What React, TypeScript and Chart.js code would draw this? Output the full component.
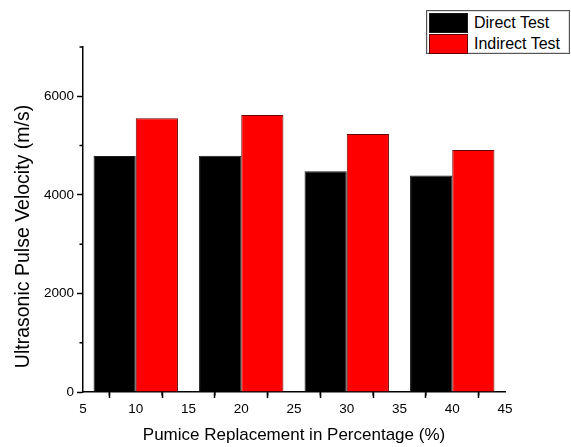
import React, { useEffect, useRef } from 'react';
import { Chart, registerables } from 'chart.js';

Chart.register(...registerables);

// ---- Data ----
const replacementLevels = [10, 20, 30, 40];
const directTest = [4790, 4796, 4480, 4391];
const indirectTest = [5554, 5621, 5236, 4912];
const seriesNames = ['Direct Test', 'Indirect Test'];
const seriesColors = ['#000000', '#ff0000'];
const seriesBorders = ['#1a1a1a', '#6a0000'];
const xAxisTitle = 'Pumice Replacement in Percentage (%)';
const yAxisTitle = 'Ultrasonic Pulse Velocity (m/s)';
const xRange = [5, 45];
const xStep = 5;
const yRange = [0, 7000];
const yMinorStep = 1000;
const yMajorStep = 2000;

const FONT = "'Liberation Sans', Arial, sans-serif";

const minorTicks = {
  id: 'minorTicks',
  afterDraw(chart: any) {
    const ctx = chart.ctx;
    const xs = chart.scales.x;
    const ys = chart.scales.y;
    ctx.save();
    ctx.strokeStyle = '#000';
    ctx.lineWidth = 1.5;
    ctx.beginPath();
    const xt = xs.ticks.map((t: any) => t.value);
    for (let i = 0; i < xt.length - 1; i++) {
      const px = xs.getPixelForValue((xt[i] + xt[i + 1]) / 2);
      ctx.moveTo(px, xs.top);
      ctx.lineTo(px, xs.top + 3.5);
    }
    ys.ticks.forEach((t: any) => {
      if (t.value % yMajorStep !== 0) {
        const py = ys.getPixelForValue(t.value);
        ctx.moveTo(ys.right, py);
        ctx.lineTo(ys.right - 3.5, py);
      }
    });
    ctx.stroke();
    ctx.restore();
  },
};

const yTitlePlugin = {
  id: 'yTitle',
  afterDraw(chart: any) {
    const ctx = chart.ctx;
    const area = chart.chartArea;
    ctx.save();
    ctx.translate(24, (area.top + area.bottom) / 2 + 17);
    ctx.rotate(-Math.PI / 2);
    ctx.font = `19.5px ${FONT}`;
    ctx.fillStyle = '#000';
    ctx.textAlign = 'center';
    ctx.textBaseline = 'middle';
    ctx.fillText(yAxisTitle, 0, 0);
    ctx.restore();
  },
};

export default function App() {
  const ref = useRef<HTMLCanvasElement | null>(null);

  useEffect(() => {
    if (!ref.current) return;
    const chart = new Chart(ref.current, {
      type: 'bar',
      data: {
        datasets: [
          {
            label: seriesNames[0],
            data: replacementLevels.map((x, i) => ({ x, y: directTest[i] })),
            backgroundColor: seriesColors[0],
            borderColor: seriesBorders[0],
            borderWidth: 1,
          },
          {
            label: seriesNames[1],
            data: replacementLevels.map((x, i) => ({ x, y: indirectTest[i] })),
            backgroundColor: seriesColors[1],
            borderColor: seriesBorders[1],
            borderWidth: 1,
          },
        ],
      },
      options: {
        responsive: false,
        animation: false,
        events: [],
        datasets: {
          bar: { categoryPercentage: 1.6, barPercentage: 1 },
        } as any,
        layout: { padding: { top: 47, right: 66, bottom: 1, left: 0 } },
        plugins: {
          legend: { display: false },
          tooltip: { enabled: false },
        },
        scales: {
          x: {
            type: 'linear',
            min: xRange[0],
            max: xRange[1],
            offset: false,
            afterFit(scale: any) {
              scale.height = 54;
            },
            ticks: {
              stepSize: xStep,
              font: { family: FONT, size: 13.5 },
              color: '#000',
              padding: 3,
              maxRotation: 0,
            },
            grid: {
              drawOnChartArea: false,
              drawTicks: true,
              tickLength: 6,
              tickColor: '#000',
              tickWidth: 1.5,
            },
            border: { display: true, color: '#000', width: 1.5 },
            title: {
              display: true,
              text: xAxisTitle,
              font: { family: FONT, size: 17 },
              color: '#000',
              padding: { top: 0, bottom: 0 },
            },
          },
          y: {
            min: yRange[0],
            max: yRange[1],
            afterFit(scale: any) {
              scale.width = 83;
            },
            ticks: {
              stepSize: yMinorStep,
              font: { family: FONT, size: 13.5 },
              color: '#000',
              padding: 3,
              callback: (v: any) => (Number(v) % yMajorStep === 0 ? String(v) : ''),
            },
            grid: {
              drawOnChartArea: false,
              drawTicks: true,
              tickLength: 6,
              tickColor: (c: any) =>
                c.tick && c.tick.value % yMajorStep === 0 ? '#000' : 'rgba(0,0,0,0)',
              tickWidth: 1.5,
            },
            border: { display: true, color: '#000', width: 1.5 },
            title: { display: false },
          },
        },
      },
      plugins: [minorTicks, yTitlePlugin],
    });
    return () => chart.destroy();
  }, []);

  return (
    <div style={{ position: 'fixed', left: 0, top: 0, width: 571, height: 447, background: '#fff' }}>
      <canvas ref={ref} width={571} height={447} style={{ display: 'block' }} />
      <div
        style={{
          position: 'absolute',
          left: 426,
          top: 10,
          width: 142,
          height: 42,
          border: '1px solid #555',
          boxShadow: 'inset 0 0 0 1px #ddd',
          background: '#fff',
          fontFamily: FONT,
          fontSize: 16,
          color: '#000',
        }}
      >
        {seriesNames.map((name, i) => (
          <div
            key={name}
            style={{ position: 'absolute', left: 2, top: 2 + i * 21, height: 20, display: 'flex', alignItems: 'center' }}
          >
            <div
              style={{
                width: 37,
                height: 18,
                background: seriesColors[i],
                border: `1px solid ${seriesBorders[i]}`,
              }}
            />
            <span style={{ marginLeft: 6, whiteSpace: 'nowrap', lineHeight: '20px' }}>{name}</span>
          </div>
        ))}
      </div>
    </div>
  );
}
